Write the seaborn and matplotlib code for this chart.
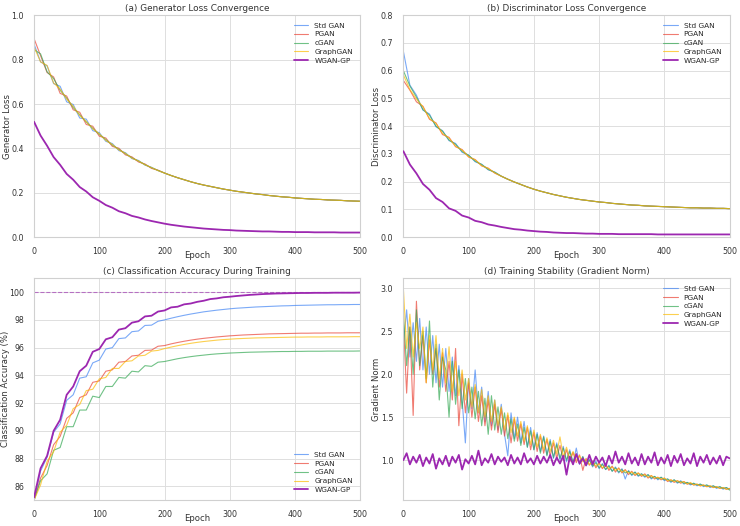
import matplotlib
matplotlib.use("Agg")
import matplotlib.pyplot as plt
import seaborn as sns

# ---------------- data ----------------
models = ["Std GAN", "PGAN", "cGAN", "GraphGAN", "WGAN-GP"]
colors = ["#4285F4", "#EA4335", "#34A853", "#FBBC05", "#9C27B0"]

epochs_10 = list(range(0, 501, 10))
epochs_5 = list(range(0, 501, 5))

# (a) Generator loss
gen_std = [0.870, 0.790, 0.772, 0.692, 0.680, 0.610, 0.598, 0.537, 0.532, 0.480,
           0.471, 0.432, 0.422, 0.390, 0.381, 0.354, 0.346, 0.325, 0.315, 0.300,
           0.289, 0.278, 0.268, 0.259, 0.250, 0.242, 0.235, 0.229, 0.223, 0.217,
           0.212, 0.207, 0.203, 0.199, 0.195, 0.192, 0.188, 0.185, 0.182, 0.180,
           0.177, 0.175, 0.173, 0.171, 0.170, 0.168, 0.167, 0.166, 0.164, 0.163, 0.162]
gen_pgan = [0.895, 0.818, 0.742, 0.722, 0.648, 0.636, 0.574, 0.563, 0.508, 0.500,
            0.455, 0.447, 0.409, 0.401, 0.371, 0.362, 0.339, 0.330, 0.310, 0.302,
            0.289, 0.278, 0.268, 0.259, 0.250, 0.242, 0.235, 0.229, 0.223, 0.217,
            0.212, 0.207, 0.203, 0.199, 0.195, 0.192, 0.188, 0.185, 0.182, 0.180,
            0.177, 0.175, 0.173, 0.171, 0.170, 0.168, 0.167, 0.166, 0.164, 0.163, 0.162]
gen_cgan = [0.845, 0.826, 0.745, 0.715, 0.662, 0.627, 0.584, 0.552, 0.519, 0.491,
            0.463, 0.440, 0.415, 0.396, 0.376, 0.358, 0.343, 0.327, 0.313, 0.301,
            0.289, 0.278, 0.268, 0.259, 0.250, 0.242, 0.235, 0.229, 0.223, 0.217,
            0.212, 0.207, 0.203, 0.199, 0.195, 0.192, 0.188, 0.185, 0.182, 0.180,
            0.177, 0.175, 0.173, 0.171, 0.170, 0.168, 0.167, 0.166, 0.164, 0.163, 0.162]
gen_graph = [0.858, 0.790, 0.774, 0.695, 0.668, 0.622, 0.590, 0.548, 0.522, 0.488,
             0.466, 0.436, 0.418, 0.393, 0.378, 0.356, 0.344, 0.326, 0.314, 0.300,
             0.289, 0.278, 0.268, 0.259, 0.250, 0.242, 0.235, 0.229, 0.223, 0.217,
             0.212, 0.207, 0.203, 0.199, 0.195, 0.192, 0.188, 0.185, 0.182, 0.180,
             0.177, 0.175, 0.173, 0.171, 0.170, 0.168, 0.167, 0.166, 0.164, 0.163, 0.162]
gen_wgan = [0.520, 0.458, 0.412, 0.361, 0.326, 0.285, 0.259, 0.226, 0.206, 0.180,
            0.164, 0.145, 0.133, 0.117, 0.108, 0.096, 0.089, 0.080, 0.073, 0.067,
            0.061, 0.056, 0.052, 0.048, 0.045, 0.042, 0.039, 0.037, 0.035, 0.033,
            0.032, 0.030, 0.029, 0.028, 0.027, 0.026, 0.026, 0.025, 0.024, 0.024,
            0.023, 0.023, 0.023, 0.022, 0.022, 0.022, 0.022, 0.021, 0.021, 0.021, 0.021]

# (b) Discriminator loss
disc_std = [0.670, 0.548, 0.512, 0.458, 0.444, 0.398, 0.384, 0.348, 0.338, 0.306,
            0.296, 0.272, 0.263, 0.243, 0.235,
            0.220, 0.209, 0.199, 0.190, 0.181, 0.173, 0.166, 0.160, 0.154, 0.149,
            0.144, 0.140, 0.136, 0.133, 0.130, 0.127, 0.125, 0.122, 0.120, 0.118,
            0.116, 0.115, 0.113, 0.112, 0.111, 0.110, 0.109, 0.108, 0.107, 0.106,
            0.106, 0.105, 0.105, 0.104, 0.104, 0.103]
disc_pgan = [0.565, 0.530, 0.488, 0.472, 0.425, 0.412, 0.370, 0.360, 0.326, 0.316,
             0.289, 0.280, 0.257, 0.249, 0.231,
             0.220, 0.209, 0.199, 0.190, 0.181, 0.173, 0.166, 0.160, 0.154, 0.149,
             0.144, 0.140, 0.136, 0.133, 0.130, 0.127, 0.125, 0.122, 0.120, 0.118,
             0.116, 0.115, 0.113, 0.112, 0.111, 0.110, 0.109, 0.108, 0.107, 0.106,
             0.106, 0.105, 0.105, 0.104, 0.104, 0.103]
disc_cgan = [0.600, 0.545, 0.505, 0.460, 0.440, 0.400, 0.382, 0.350, 0.335, 0.309,
             0.295, 0.274, 0.262, 0.244, 0.234,
             0.220, 0.209, 0.199, 0.190, 0.181, 0.173, 0.166, 0.160, 0.154, 0.149,
             0.144, 0.140, 0.136, 0.133, 0.130, 0.127, 0.125, 0.122, 0.120, 0.118,
             0.116, 0.115, 0.113, 0.112, 0.111, 0.110, 0.109, 0.108, 0.107, 0.106,
             0.106, 0.105, 0.105, 0.104, 0.104, 0.103]
disc_graph = [0.585, 0.532, 0.498, 0.470, 0.428, 0.410, 0.374, 0.357, 0.328, 0.314,
              0.290, 0.279, 0.258, 0.248, 0.232,
              0.220, 0.209, 0.199, 0.190, 0.181, 0.173, 0.166, 0.160, 0.154, 0.149,
              0.144, 0.140, 0.136, 0.133, 0.130, 0.127, 0.125, 0.122, 0.120, 0.118,
              0.116, 0.115, 0.113, 0.112, 0.111, 0.110, 0.109, 0.108, 0.107, 0.106,
              0.106, 0.105, 0.105, 0.104, 0.104, 0.103]
disc_wgan = [0.310, 0.262, 0.230, 0.192, 0.171, 0.141, 0.127, 0.104, 0.095, 0.078,
             0.071, 0.059, 0.054, 0.046, 0.042, 0.037, 0.033, 0.029, 0.027, 0.024,
             0.022, 0.020, 0.019, 0.017, 0.016, 0.015, 0.015, 0.014, 0.013, 0.013,
             0.012, 0.012, 0.012, 0.011, 0.011, 0.011, 0.011, 0.011, 0.011, 0.010,
             0.010, 0.010, 0.010, 0.010, 0.010, 0.010, 0.010, 0.010, 0.010, 0.010, 0.010]

# (c) Classification accuracy (%)
acc_std = [85.0, 87.1, 88.1, 89.9, 90.5, 92.2, 92.6, 93.8, 93.9, 94.9,
           95.1, 95.9, 96.0, 96.65, 96.7, 97.15, 97.2, 97.6, 97.62, 97.9,
           98.0, 98.12, 98.23, 98.33, 98.42, 98.5, 98.58, 98.64, 98.7, 98.75,
           98.8, 98.84, 98.87, 98.9, 98.93, 98.95, 98.97, 98.99, 99.01, 99.02,
           99.04, 99.05, 99.06, 99.07, 99.08, 99.09, 99.09, 99.1, 99.1, 99.11, 99.11]
acc_pgan = [85.0, 86.6, 87.5, 89.0, 89.6, 90.9, 91.3, 92.4, 92.6, 93.5,
            93.6, 94.3, 94.4, 94.95, 95.0, 95.4, 95.45, 95.8, 95.82, 96.1,
            96.15, 96.27, 96.37, 96.46, 96.54, 96.61, 96.67, 96.72, 96.77, 96.81,
            96.85, 96.88, 96.91, 96.93, 96.95, 96.97, 96.99, 97.0, 97.01, 97.02,
            97.03, 97.04, 97.04, 97.05, 97.05, 97.06, 97.06, 97.06, 97.07, 97.07, 97.07]
acc_cgan = [85.0, 86.4, 86.9, 88.6, 88.8, 90.3, 90.3, 91.5, 91.5, 92.5,
            92.4, 93.2, 93.2, 93.85, 93.8, 94.3, 94.25, 94.7, 94.65, 94.95,
            95.0, 95.1, 95.2, 95.28, 95.35, 95.41, 95.46, 95.51, 95.55, 95.58,
            95.61, 95.63, 95.65, 95.67, 95.68, 95.69, 95.7, 95.71, 95.72, 95.72,
            95.73, 95.73, 95.74, 95.74, 95.74, 95.75, 95.75, 95.75, 95.75, 95.75, 95.76]
acc_graph = [85.0, 86.1, 87.8, 88.5, 89.9, 90.4, 91.6, 91.9, 92.9, 93.0,
             93.75, 93.85, 94.5, 94.5, 95.0, 95.05, 95.4, 95.45, 95.75, 95.8,
             95.93, 96.04, 96.14, 96.23, 96.31, 96.38, 96.44, 96.49, 96.54, 96.58,
             96.61, 96.64, 96.66, 96.68, 96.7, 96.71, 96.72, 96.73, 96.74, 96.75,
             96.76, 96.76, 96.77, 96.77, 96.77, 96.78, 96.78, 96.78, 96.78, 96.79, 96.79]
acc_wgan = [85.2, 87.3, 88.2, 90.0, 90.8, 92.6, 93.2, 94.3, 94.7, 95.7,
            95.9, 96.6, 96.75, 97.3, 97.4, 97.8, 97.9, 98.25, 98.3, 98.6,
            98.68, 98.9, 98.95, 99.12, 99.18, 99.3, 99.38, 99.5, 99.55, 99.63,
            99.67, 99.72, 99.76, 99.8, 99.83, 99.86, 99.88, 99.9, 99.91, 99.92,
            99.93, 99.94, 99.94, 99.95, 99.95, 99.95, 99.96, 99.96, 99.96, 99.96, 99.97]

# (d) Gradient norm
grad_std = [2.35, 2.75, 2.20, 2.60, 2.15, 2.65, 2.05, 2.55, 2.00, 2.45,
            1.90, 2.35, 1.85, 2.30, 1.80, 2.20, 1.75, 2.10, 1.70, 1.20,
            1.95, 1.60, 2.05, 1.55, 1.85, 1.45, 1.80, 1.40, 1.70, 1.35,
            1.65, 1.30, 1.05, 1.55, 1.25, 1.50, 1.20, 1.45, 1.15, 1.38,
            1.12, 1.32, 1.10, 1.28, 1.06, 1.24, 1.02, 1.20, 1.00, 1.16,
            0.98, 1.12, 0.96, 1.14, 0.95, 1.04, 0.93, 1.01, 0.92, 0.99,
            0.90, 0.96, 0.89, 0.94, 0.87, 0.92, 0.85, 0.90, 0.78, 0.88,
            0.82, 0.86, 0.81, 0.84, 0.80, 0.83, 0.78, 0.81, 0.77, 0.80,
            0.76, 0.78, 0.74, 0.77, 0.73, 0.76, 0.72, 0.74, 0.71, 0.73,
            0.70, 0.72, 0.69, 0.71, 0.68, 0.70, 0.67, 0.69, 0.66, 0.68,
            0.66]
grad_pgan = [2.60, 1.78, 2.55, 1.52, 2.85, 2.05, 2.45, 1.90, 2.40, 2.00,
             2.30, 1.85, 2.25, 1.80, 2.15, 1.70, 2.30, 1.40, 2.00, 1.55,
             1.90, 1.50, 1.85, 1.45, 1.75, 1.40, 1.70, 1.35, 1.65, 1.32,
             1.60, 1.28, 1.52, 1.20, 1.48, 1.22, 1.42, 1.18, 1.38, 1.12,
             1.32, 1.10, 1.28, 1.08, 1.24, 1.05, 1.20, 1.02, 1.17, 1.00,
             1.12, 0.98, 1.09, 0.97, 1.06, 0.88, 1.02, 0.94, 0.99, 0.91,
             0.97, 0.90, 0.95, 0.88, 0.93, 0.86, 0.91, 0.85, 0.89, 0.83,
             0.87, 0.82, 0.85, 0.81, 0.84, 0.79, 0.82, 0.78, 0.80, 0.77,
             0.79, 0.75, 0.77, 0.74, 0.76, 0.73, 0.75, 0.72, 0.73, 0.71,
             0.72, 0.70, 0.71, 0.69, 0.70, 0.68, 0.69, 0.67, 0.68, 0.66,
             0.67]
grad_cgan = [2.70, 2.10, 2.55, 2.00, 2.75, 2.10, 2.50, 1.95, 2.62, 1.85,
             2.35, 1.70, 2.20, 2.05, 1.50, 2.15, 1.65, 2.05, 1.60, 1.95,
             1.55, 1.85, 1.48, 1.80, 1.40, 1.72, 1.30, 1.75, 1.35, 1.62,
             1.30, 1.55, 1.25, 1.48, 1.22, 1.42, 1.17, 1.38, 1.15, 1.34,
             1.12, 1.30, 1.08, 1.27, 1.05, 1.22, 1.03, 1.18, 1.02, 1.14,
             1.00, 1.10, 0.98, 1.07, 0.96, 1.04, 0.94, 1.00, 0.93, 0.97,
             0.91, 0.95, 0.89, 0.93, 0.87, 0.91, 0.86, 0.89, 0.85, 0.87,
             0.83, 0.86, 0.82, 0.84, 0.81, 0.83, 0.79, 0.81, 0.78, 0.80,
             0.77, 0.78, 0.75, 0.77, 0.74, 0.75, 0.73, 0.74, 0.72, 0.73,
             0.71, 0.72, 0.70, 0.71, 0.69, 0.70, 0.68, 0.69, 0.67, 0.68,
             0.65]
grad_graph = [3.00, 2.30, 2.70, 2.20, 2.60, 2.30, 2.55, 1.90, 2.45, 2.05,
              2.45, 1.95, 2.30, 1.90, 2.32, 1.80, 2.15, 1.75, 2.05, 1.70,
              1.95, 1.62, 1.88, 1.55, 1.82, 1.50, 1.75, 1.45, 1.70, 1.40,
              1.62, 1.35, 1.55, 1.32, 1.50, 1.28, 1.45, 1.22, 1.40, 1.18,
              1.35, 1.15, 1.30, 1.12, 1.26, 1.10, 1.23, 1.07, 1.27, 1.04,
              1.15, 1.02, 1.10, 1.00, 1.05, 0.98, 1.01, 0.95, 0.98, 0.93,
              0.96, 0.91, 0.94, 0.90, 0.92, 0.88, 0.90, 0.86, 0.88, 0.85,
              0.86, 0.83, 0.85, 0.82, 0.83, 0.80, 0.82, 0.79, 0.80, 0.78,
              0.79, 0.76, 0.77, 0.75, 0.76, 0.74, 0.75, 0.72, 0.74, 0.71,
              0.72, 0.70, 0.71, 0.69, 0.70, 0.68, 0.69, 0.67, 0.68, 0.66,
              0.67]
grad_wgan = [1.00, 1.08, 0.95, 1.04, 0.97, 1.06, 0.93, 1.03, 0.96, 1.07,
             0.90, 1.02, 0.95, 1.05, 0.93, 1.04, 0.97, 1.06, 0.89, 1.01,
             0.96, 1.05, 0.95, 1.11, 0.94, 1.02, 0.97, 1.07, 0.95, 1.04,
             0.98, 1.03, 0.94, 1.06, 0.96, 1.03, 0.95, 1.08, 0.97, 1.02,
             0.95, 1.05, 0.96, 1.04, 0.97, 1.06, 0.94, 1.03, 0.96, 1.05,
             0.83, 1.04, 0.95, 1.07, 0.96, 1.02, 0.94, 1.06, 0.95, 1.04,
             0.97, 1.03, 0.93, 1.05, 0.96, 1.10, 0.97, 1.04, 0.95, 1.08,
             0.96, 1.03, 0.94, 1.07, 0.95, 1.04, 0.97, 1.09, 0.94, 1.03,
             0.96, 1.06, 0.93, 1.05, 0.97, 1.07, 0.94, 1.02, 0.96, 1.08,
             0.93, 1.04, 0.97, 1.06, 0.95, 1.03, 0.96, 1.05, 0.94, 1.04,
             1.02]

# ---------------- style ----------------
sns.set_theme(style="whitegrid")
plt.rcParams["font.family"] = ["DejaVu Sans"]
plt.rcParams.update({
    "axes.edgecolor": "#d0d0d0",
    "grid.color": "#dedede",
    "grid.linewidth": 0.7,
    "axes.linewidth": 0.8,
})

fig, axes = plt.subplots(2, 2, figsize=(7.4, 5.26), dpi=100)
fig.subplots_adjust(left=0.046, right=0.986, top=0.971, bottom=0.049,
                    wspace=0.132, hspace=0.185)

TITLE_FS = 6.4
LABEL_FS = 6.1
TICK_FS = 5.7
LEG_FS = 5.3


def draw(ax, x, series, title, ylabel, legend_loc, ylab_x=-0.069):
    for i, (name, vals) in enumerate(zip(models, series)):
        is_w = name == "WGAN-GP"
        sns.lineplot(x=x, y=vals, ax=ax, color=colors[i], label=name,
                     linewidth=1.3 if is_w else 0.8,
                     alpha=1.0 if is_w else 0.7,
                     zorder=3 if is_w else 2)
    ax.set_title(title, fontsize=TITLE_FS, pad=3, color="#333333")
    ax.set_xlabel("Epoch", fontsize=LABEL_FS, color="#333333")
    ax.set_ylabel(ylabel, fontsize=LABEL_FS, color="#333333")
    ax.xaxis.set_label_coords(0.5, -0.063)
    ax.yaxis.set_label_coords(ylab_x, 0.5)
    ax.set_xlim(0, 500)
    ax.tick_params(axis="both", labelsize=TICK_FS, pad=1.2, colors="#333333")
    ax.legend(loc=legend_loc, fontsize=LEG_FS, frameon=False,
              handlelength=2.0, labelspacing=0.35, borderaxespad=0.6)


draw(axes[0, 0], epochs_10, [gen_std, gen_pgan, gen_cgan, gen_graph, gen_wgan],
     "(a) Generator Loss Convergence", "Generator Loss", "upper right")
axes[0, 0].set_ylim(0, 1.0)

draw(axes[0, 1], epochs_10, [disc_std, disc_pgan, disc_cgan, disc_graph, disc_wgan],
     "(b) Discriminator Loss Convergence", "Discriminator Loss", "upper right")
axes[0, 1].set_ylim(0, 0.8)

axes[1, 0].axhline(100, color=colors[4], linestyle="--", linewidth=0.8, alpha=0.6, zorder=1)
draw(axes[1, 0], epochs_10, [acc_std, acc_pgan, acc_cgan, acc_graph, acc_wgan],
     "(c) Classification Accuracy During Training", "Classification Accuracy (%)",
     "lower right", ylab_x=-0.074)
axes[1, 0].set_ylim(85, 101)
axes[1, 0].set_yticks([86, 88, 90, 92, 94, 96, 98, 100])

draw(axes[1, 1], epochs_5, [grad_std, grad_pgan, grad_cgan, grad_graph, grad_wgan],
     "(d) Training Stability (Gradient Norm)", "Gradient Norm", "upper right")
axes[1, 1].set_yticks([1.0, 1.5, 2.0, 2.5, 3.0])

fig.savefig("out.png", dpi=100)
